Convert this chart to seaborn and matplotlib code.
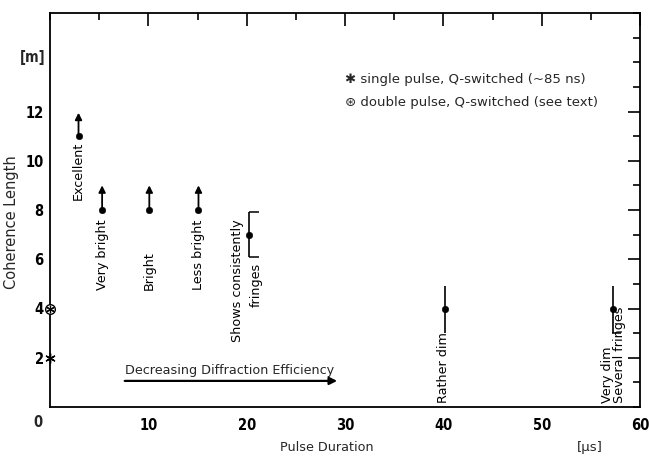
import matplotlib
matplotlib.use("Agg")
import matplotlib.pyplot as plt
import seaborn as sns
import pandas as pd
from matplotlib.ticker import MultipleLocator

# ---- data ----
labels = ["Excellent", "Very bright", "Bright", "Less bright",
          "Shows consistently", "Rather dim", "Very dim"]
pulse_us = [2.9, 5.3, 10.1, 15.1, 20.2, 40.2, 57.3]
coh_len = [11.0, 8.0, 8.0, 8.0, 7.0, 4.0, 4.0]
lower_bound_only = [True, True, True, True, False, False, False]
err_low = [0, 0, 0, 0, 0.9, 1.0, 1.0]
err_high = [0, 0, 0, 0, 0.9, 0.9, 0.9]
arrow_top = [11.95, 9.0, 9.0, 9.0, 0, 0, 0]
x_ticks = [10, 20, 30, 40, 50, 60]
y_ticks = [2, 4, 6, 8, 10, 12]
single_q = (0.0, 2.0)
double_q = (0.0, 4.0)

df = pd.DataFrame({"pulse": pulse_us, "coh": coh_len, "label": labels})

sns.set_style("white")
plt.rcParams["font.family"] = ["DejaVu Sans"]

fig = plt.figure(figsize=(6.49, 4.58), dpi=100)
ax = fig.add_axes([50/649, 1-407/458, 590/649, 394/458])

sns.scatterplot(data=df, x="pulse", y="coh", ax=ax, color="black", s=22,
                edgecolor="black", zorder=5, legend=False)

# arrows for lower bounds
for x, y, lb, at in zip(pulse_us, coh_len, lower_bound_only, arrow_top):
    if lb:
        ax.annotate("", xy=(x, at), xytext=(x, y),
                    arrowprops=dict(arrowstyle="-|>", color="black", lw=1.3,
                                    mutation_scale=10, shrinkA=0, shrinkB=0))
# error bars
for x, y, lb, el, eh in zip(pulse_us, coh_len, lower_bound_only, err_low, err_high):
    if not lb:
        ax.errorbar(x, y, yerr=[[el], [eh]], fmt="none", ecolor="black", lw=1.2)
# one-sided caps
ax.hlines([7.9, 6.1], 20.2, 21.3, color="black", lw=1.1)
ax.hlines([3.0], 57.2, 58.1, color="black", lw=1.1)

# labels (rotated)
txt_kw = dict(rotation=90, fontsize=9.2, color="black")
ax.text(2.9, 8.4, "Excellent", ha="center", va="bottom", **txt_kw)
ax.text(5.3, 4.75, "Very bright", ha="center", va="bottom", **txt_kw)
ax.text(10.1, 4.75, "Bright", ha="center", va="bottom", **txt_kw)
ax.text(15.1, 4.75, "Less bright", ha="center", va="bottom", **txt_kw)
ax.text(19.1, 2.65, "Shows consistently", ha="center", va="bottom", **txt_kw)
ax.text(21.0, 4.05, "fringes", ha="center", va="bottom", **txt_kw)
ax.text(40.0, 0.16, "Rather dim", ha="center", va="bottom", **txt_kw)
ax.text(56.7, 0.16, "Very dim", ha="center", va="bottom", **txt_kw)
ax.text(57.9, 0.16, "Several fringes", ha="center", va="bottom", **txt_kw)

# Q-switched markers
ax.scatter([single_q[0]], [single_q[1]], marker=(6, 2, 0), s=45, color="black",
           lw=1.0, zorder=6, clip_on=False)
ax.scatter([double_q[0]], [double_q[1]], marker="o", s=48, facecolor="white",
           edgecolor="black", lw=1.0, zorder=6, clip_on=False)
ax.scatter([double_q[0]], [double_q[1]], marker=(6, 2, 0), s=22, color="black",
           lw=0.9, zorder=7, clip_on=False)

# legend text
ax.text(30.0, 13.3, "\u2731 single pulse, Q-switched (~85 ns)", fontsize=9.5,
        va="center", ha="left")
ax.text(30.0, 12.35, "\u229B double pulse, Q-switched (see text)", fontsize=9.5,
        va="center", ha="left")

# Decreasing diffraction efficiency arrow
ax.text(7.6, 1.5, "Decreasing Diffraction Efficiency", fontsize=9.2,
        va="center", ha="left")
ax.annotate("", xy=(29.2, 1.06), xytext=(7.6, 1.06),
            arrowprops=dict(arrowstyle="-|>", color="black", lw=1.6,
                            mutation_scale=11, shrinkA=0, shrinkB=0))

# axes
ax.set_xlim(0, 60)
ax.set_ylim(0, 16)
ax.set_xticks(x_ticks)
ax.set_xticklabels([str(v) for v in x_ticks])
ax.set_yticks(y_ticks)
ax.set_yticklabels([str(v) for v in y_ticks])
ax.xaxis.set_minor_locator(MultipleLocator(5))
ax.yaxis.set_minor_locator(MultipleLocator(1))
ax.tick_params(which="both", direction="in", top=True, right=True,
               width=1.2, colors="black")
ax.tick_params(which="major", length=9)
ax.tick_params(which="minor", length=5)
ax.tick_params(axis="x", which="major", pad=8)
ax.tick_params(axis="y", which="major", pad=4.5)
for lbl in ax.get_xticklabels() + ax.get_yticklabels():
    lbl.set_fontsize(10.5)
    lbl.set_fontweight("bold")
    lbl.set_fontstretch("condensed")
for sp in ax.spines.values():
    sp.set_visible(True)
    sp.set_color("black")
    sp.set_linewidth(1.3)

ax.text(-0.021, -0.04, "0", transform=ax.transAxes, ha="center", va="center",
        fontsize=10.5, fontweight="bold", fontstretch="condensed")
ax.text(-0.008, 14.2, "[m]", ha="right", va="center", fontsize=10.5,
        fontweight="bold", fontstretch="condensed",
        transform=ax.get_yaxis_transform())

ax.set_xlabel("")
ax.set_ylabel("")
ax.text(-0.065, 0.47, "Coherence Length", transform=ax.transAxes, rotation=90,
        ha="center", va="center", fontsize=10.5)
ax.text(0.469, -0.104, "Pulse Duration", transform=ax.transAxes,
        ha="center", va="center", fontsize=9.2)
ax.text(0.915, -0.104, "[\u00b5s]", transform=ax.transAxes,
        ha="center", va="center", fontsize=9.5)

fig.savefig("out.png", dpi=100)
